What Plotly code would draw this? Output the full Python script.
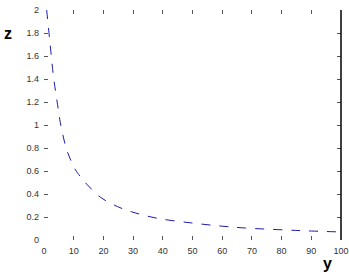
import plotly.graph_objects as go

y_vals = [0.9, 2.0, 3.2, 4.2, 4.9, 5.5, 7.7, 10.6, 12.3, 14.6, 19.1, 24.8, 29.4, 37.9, 49.8, 60, 67.9, 81.6, 90, 100]
z_vals = [2.0, 1.72, 1.42, 1.24, 1.12, 1.02, 0.78, 0.61, 0.55, 0.48, 0.37, 0.29, 0.246, 0.19, 0.148, 0.12, 0.104, 0.087, 0.078, 0.07]

x_ticks = [0, 10, 20, 30, 40, 50, 60, 70, 80, 90, 100]
y_ticks = [0, 0.2, 0.4, 0.6, 0.8, 1, 1.2, 1.4, 1.6, 1.8, 2]
y_tick_labels = ["0", "0.2", "0.4", "0.6", "0.8", "1", "1.2", "1.4", "1.6", "1.8", "2"]

fig = go.Figure()
fig.add_trace(go.Scatter(x=y_vals, y=z_vals, mode="lines",
                         line=dict(color="#1c1ca8", width=1, dash="dash", shape="spline"),
                         showlegend=False))

font_tick = dict(family="Liberation Sans, Arial", size=9, color="#333333")
fig.update_layout(
    width=349, height=274,
    margin=dict(l=44, r=8, t=10, b=34, autoexpand=False),
    paper_bgcolor="white", plot_bgcolor="white",
    xaxis=dict(range=[0, 100], tickvals=x_ticks, ticks="inside", ticklen=4, tickcolor="#555",
               showgrid=False, zeroline=False, showline=False, mirror="ticks",
               tickfont=font_tick, automargin=False, ticklabelstandoff=4),
    yaxis=dict(range=[0, 2], tickvals=y_ticks, ticktext=y_tick_labels, ticks="inside", ticklen=4,
               tickcolor="#555", showgrid=False, zeroline=False, showline=False, mirror="ticks",
               tickfont=font_tick, ticklabelstandoff=4, automargin=False),
    shapes=[dict(type="line", xref="paper", yref="paper", x0=1, x1=1, y0=0, y1=1,
                 line=dict(color="black", width=1.5))],
    annotations=[
        dict(text="<b>z</b>", xref="paper", yref="paper", x=-0.121, y=0.9, showarrow=False,
             xanchor="center", yanchor="middle",
             font=dict(family="Liberation Sans, Arial", size=16, color="black")),
        dict(text="<b>y</b>", xref="paper", yref="paper", x=0.956, y=-0.104, showarrow=False,
             xanchor="center", yanchor="middle",
             font=dict(family="Liberation Sans, Arial", size=16, color="black")),
    ],
)
fig.write_html("out.html", post_script="document.body.style.margin='0';document.body.style.overflow='hidden';")
